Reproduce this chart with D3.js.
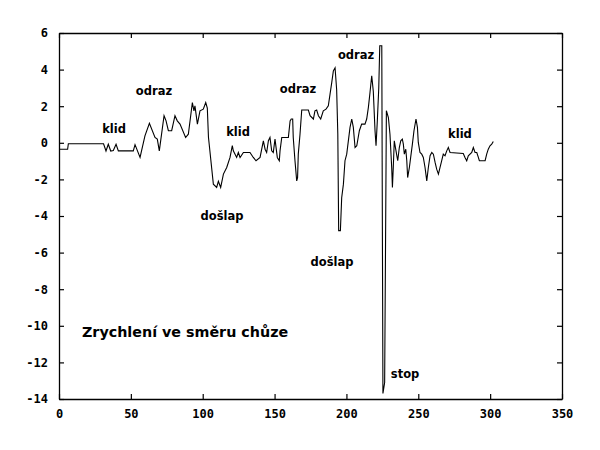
<!DOCTYPE html>
<html>
<head>
<meta charset="utf-8">
<script src="https://cdn.jsdelivr.net/npm/d3@7"></script>
<style>
  html, body { margin: 0; padding: 0; background: #fff; }
  svg { display: block; }
</style>
</head>
<body>
<svg id="chart" width="600" height="450"></svg>
<script>
// ---- data ----
const time = [0, 6, 6.5, 31, 32.7, 34.3, 36, 37.8, 39.7, 41.3, 51.7, 52.9, 56.4, 59.8, 62.9, 66.8, 68.4, 69.8,
  73.1, 74.5, 76.1, 78.4, 80.7, 82.3, 84.2, 88.1, 90, 92.8, 93.9, 94.6, 96.3, 98.1, 100.4, 102.1, 103.2, 104,
  107.4, 109.7, 110.9, 112.5, 114.4, 116.7, 119, 120.6, 121.3, 123.6, 124.8, 126, 128.3, 132.9, 135.2, 137.1,
  139.9, 142.2, 143.4, 144.5, 145.7, 146.8, 148, 149.1, 150.3, 151.9, 153.3, 153.8, 155, 159.6, 160.8, 161.6,
  162.6, 163, 164.2, 165.4, 166, 166.5, 167.7, 168.9, 173.5, 174.7, 177, 178.1, 179.3, 180.5, 182.1, 183.9,
  185.8, 187.4, 188.6, 189.8, 190.9, 192.1, 193.2, 194, 194.6, 195.8, 196.7, 197.9, 199, 200.2, 202.5, 203.7,
  204.8, 206, 207.2, 209, 210.6, 212.9, 214.1, 215.3, 216.4, 217.6, 218.2, 218.7, 219.9, 220.6, 221.5, 222.5,
  223.2, 224.6, 225.4, 226.6, 227.8, 229.2, 230.3, 231.5, 232, 232.6, 233.3, 234.5, 235.7, 236.8, 237.8,
  238.9, 239.6, 240.3, 241.3, 242, 242.6, 243.8, 244.7, 245.9, 247, 248.4, 249.4, 250, 251.2, 252.4, 253.5,
  254.7, 255.9, 257, 258.2, 259.4, 260.5, 261.7, 262.8, 264, 265.1, 266.3, 267.4, 268.6, 269.8, 270.9, 272.1,
  281.3, 282.5, 283.7, 284.8, 287.2, 288.3, 289.5, 290.7, 291.8, 292.5, 296.5, 297.6, 298.7, 299.9, 301.1, 302.2];
const accel = [-0.35, -0.35, -0.05, -0.05, -0.45, -0.08, -0.45, -0.42, -0.08, -0.44, -0.44, -0.1, -0.8, 0.38, 1.06, 0.29, 0.2, -0.44,
  1.48, 1.2, 0.66, 0.66, 1.48, 1.2, 1.02, 0.29, 0.47, 2.2, 1.75, 2.02, 1.02, 1.75, 1.84, 2.2, 1.9, 0.3,
  -2.26, -2.44, -2.1, -2.44, -1.71, -1.35, -0.8, -0.16, -0.44, -0.8, -0.53, -0.8, -0.53, -0.53, -0.8, -0.98,
  -0.8, 0.11, -0.35, -0.53, 0.11, 0.29, -0.44, -0.53, 0.2, -0.8, -0.98, -0.44, 0.29, 0.29, 1.2, 1.3,
  1.3, 0.29, -0.98, -2.08, -1.9, -0.62, 0.47, 1.79, 1.79, 1.48, 1.3, 1.75, 1.79, 1.48, 1.3, 1.75,
  1.84, 2.02, 2.66, 3.3, 3.93, 4.1, 2.9, 0.5, -4.8, -4.8, -3.0, -2.26, -0.98, -0.62, 0.84, 1.3,
  0.84, -0.26, -0.16, 0.66, 1.02, 1.02, 1.3, 1.95, 2.75, 3.66, 3.2, 2.8, 0.66, -0.16, 1.2, 3.0,
  5.3, 5.3, -13.7, -13.1, 1.75, 1.38, 0.47, -1.35, -2.44, -1.35, 0.11, -0.44, -0.98, -0.26, 0.11,
  0.2, -0.07, -0.62, -0.35, -0.98, -1.9, -1.35, -0.8, -0.07, 0.66, 1.3, 0.84, 0.02, -0.53, -0.62, -0.8,
  -1.35, -2.08, -1.35, -0.71, -0.53, -0.62, -1.07, -1.44, -1.71, -1.35, -0.98, -0.62, -0.71, -0.44, -0.26, -0.53,
  -0.58, -0.8, -0.98, -0.71, -0.53, -0.26, -0.53, -0.53, -0.8, -0.98, -0.98, -0.62, -0.35, -0.16, -0.07, 0.07];

const xTicks = [0, 50, 100, 150, 200, 250, 300, 350];
const yTicks = [-14, -12, -10, -8, -6, -4, -2, 0, 2, 4, 6];

const annText = ["klid", "odraz", "klid", "došlap", "odraz", "odraz", "došlap", "stop", "klid"];
const annX = [38.3, 66.1, 124.6, 113.4, 166.3, 206.7, 190, 240.8, 279];
const annY = [0.55, 2.62, 0.38, -4.2, 2.73, 4.59, -6.75, -12.84, 0.27];

const caption = "Zrychlení ve směru chůze";
const captionX = 16;
const captionY = -10.6;

// ---- drawing ----
const svg = d3.select("#chart");
const mLeft = 59, mRight = 562, mTop = 33, mBottom = 399;

const x = d3.scaleLinear().domain([0, 350]).range([mLeft, mRight]);
const y = d3.scaleLinear().domain([-14, 6]).range([mBottom, mTop]);

const tickFont = "'DejaVu Sans Mono', monospace";
const fmt = d => String(d);

const gB = svg.append("g").attr("transform", `translate(0,${mBottom})`)
  .call(d3.axisBottom(x).tickValues(xTicks).tickSizeInner(-5).tickSizeOuter(0).tickPadding(10).tickFormat(fmt));
const gT = svg.append("g").attr("transform", `translate(0,${mTop})`)
  .call(d3.axisTop(x).tickValues(xTicks).tickSizeInner(-5).tickSizeOuter(0).tickFormat(""));
const gL = svg.append("g").attr("transform", `translate(${mLeft},0)`)
  .call(d3.axisLeft(y).tickValues(yTicks).tickSizeInner(-5).tickSizeOuter(0).tickPadding(11).tickFormat(fmt));
const gR = svg.append("g").attr("transform", `translate(${mRight},0)`)
  .call(d3.axisRight(y).tickValues(yTicks).tickSizeInner(-5).tickSizeOuter(0).tickFormat(""));

[gB, gT, gL, gR].forEach(g => {
  g.selectAll(".domain").attr("stroke", "#000").attr("stroke-width", 1.3);
  g.selectAll(".tick line").attr("stroke", "#000").attr("stroke-width", 1.2);
  g.selectAll("text").attr("fill", "#000").attr("font-family", tickFont)
    .attr("font-weight", "bold").attr("font-size", 12);
});

const line = d3.line().x((d, i) => x(time[i])).y((d, i) => y(accel[i]));
svg.append("path")
  .datum(accel)
  .attr("d", line)
  .attr("fill", "none")
  .attr("stroke", "#000")
  .attr("stroke-width", 1.1)
  .attr("stroke-linejoin", "miter");

svg.append("g").selectAll("text")
  .data(annText)
  .join("text")
  .attr("x", (d, i) => x(annX[i]))
  .attr("y", (d, i) => y(annY[i]))
  .attr("text-anchor", "middle")
  .attr("font-family", "'DejaVu Sans', sans-serif")
  .attr("font-weight", "bold")
  .attr("font-size", 11.5)
  .attr("fill", "#000")
  .text(d => d);

svg.append("text")
  .attr("x", x(captionX))
  .attr("y", y(captionY))
  .attr("font-family", "'DejaVu Sans', sans-serif")
  .attr("font-weight", "bold")
  .attr("font-size", 14.3)
  .attr("fill", "#000")
  .text(caption);
</script>
</body>
</html>
